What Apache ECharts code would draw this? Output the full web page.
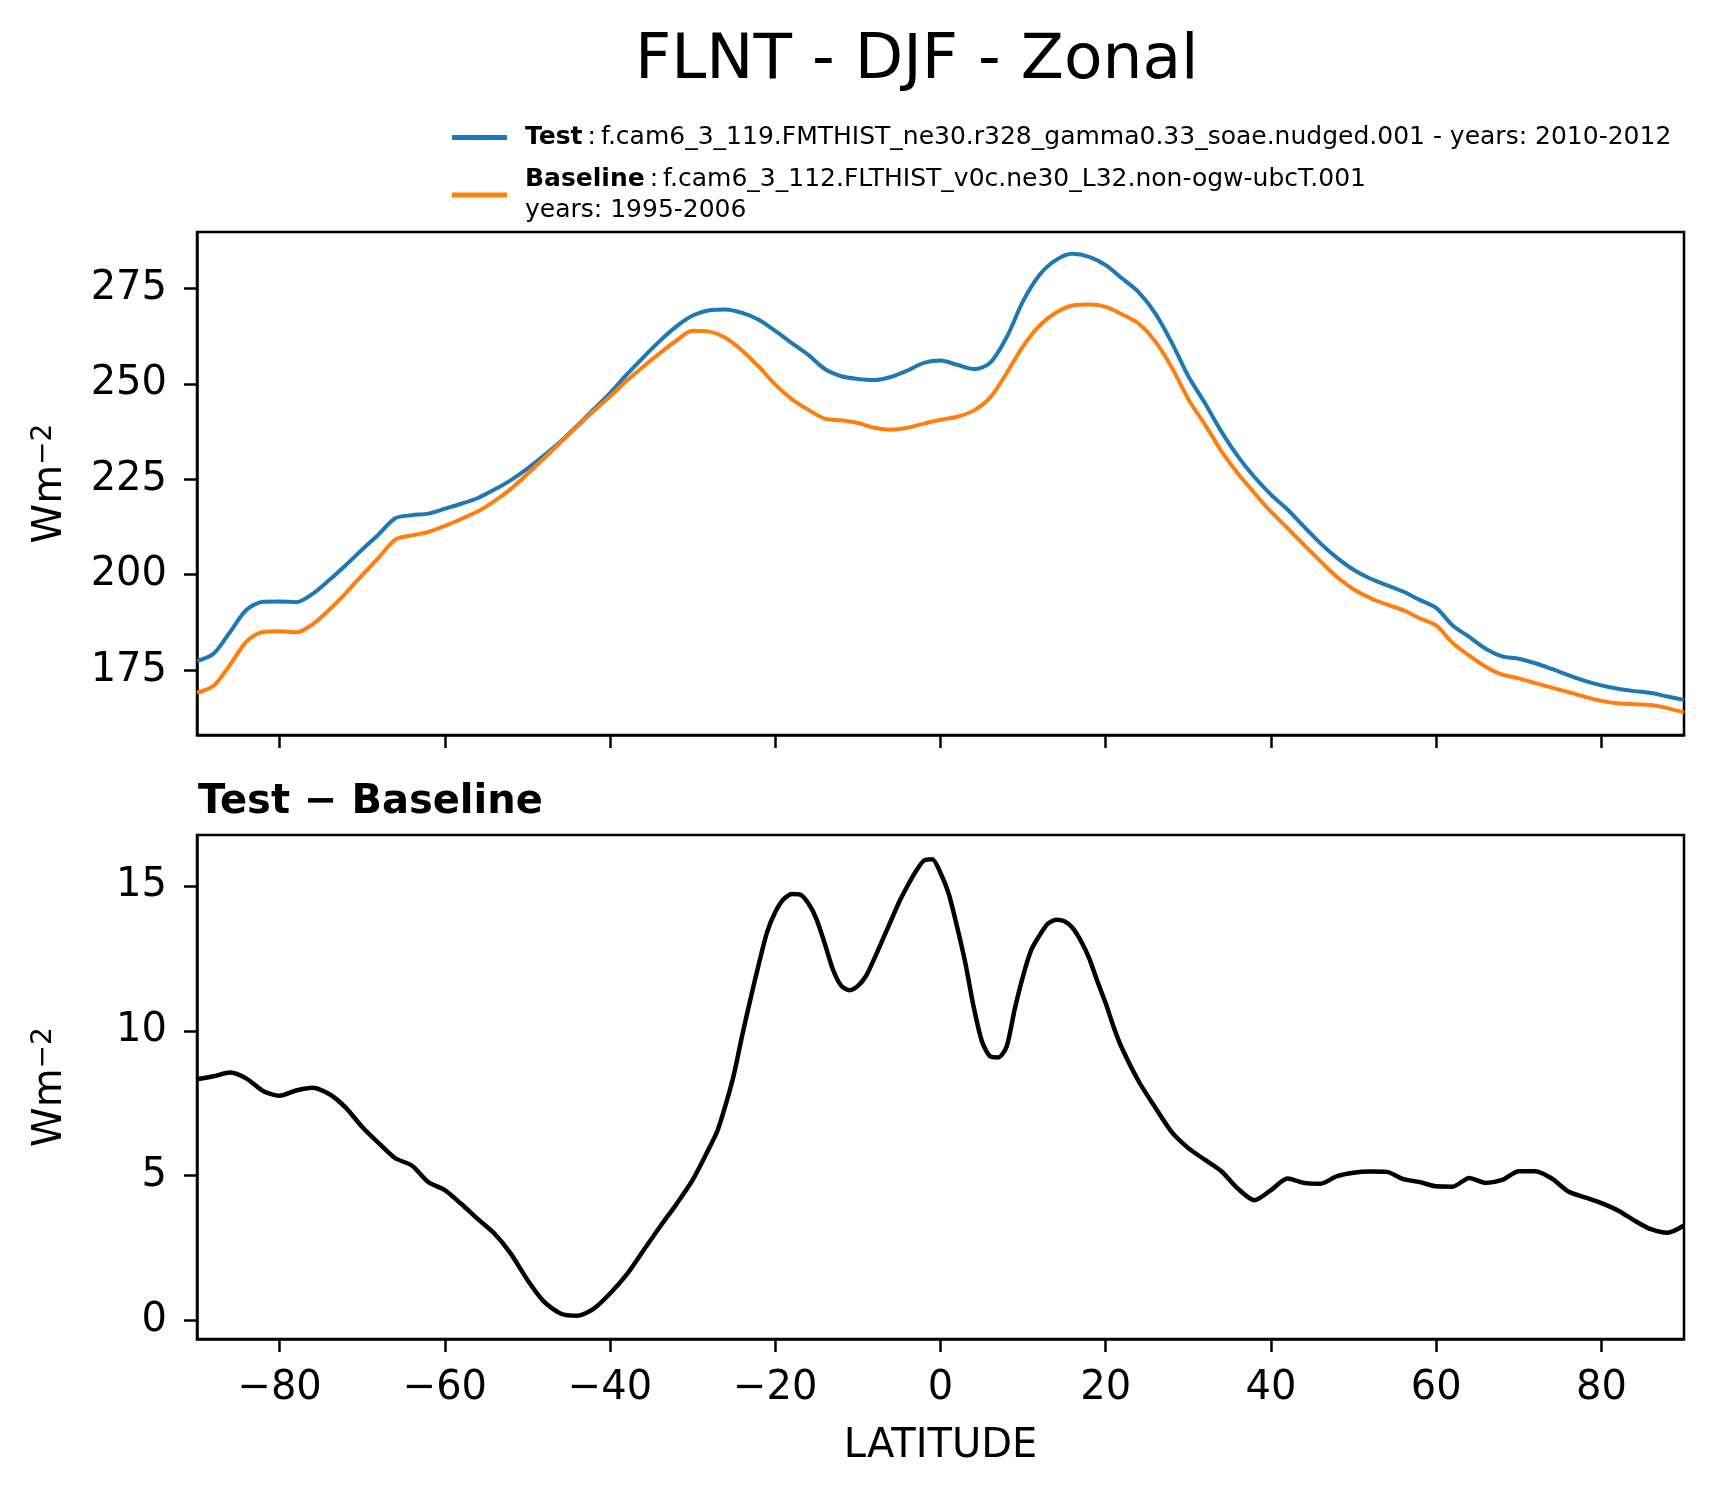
<!DOCTYPE html>
<html>
<head>
<meta charset="utf-8">
<script src="https://cdn.jsdelivr.net/npm/echarts@6/dist/echarts.min.js"></script>
<style>
html,body{margin:0;padding:0;background:#fff;}
#chart{width:1714px;height:1496px;}
</style>
</head>
<body>
<div id="chart"></div>
<script>
// ---- data ----
const lat = [-90,-88,-86,-84,-82,-80,-78,-76,-74,-72,-70,-68,-66,-64,-62,-60,-58,-56,-54,-52,-50,-48,-46,-44,-42,-40,-38,-36,-34,-32,-30,-28,-26,-24,-22,-20,-18,-16,-14,-12,-10,-8,-6,-4,-2,0,2,4,6,8,10,12,14,16,18,20,22,24,26,28,30,32,34,36,38,40,42,44,46,48,50,52,54,56,58,60,62,64,66,68,70,72,74,76,78,80,82,84,86,88,90];
const testVals = [177.4,179.3,185.0,190.8,192.9,193.0,192.8,195.0,198.6,202.5,206.6,210.6,214.8,215.6,216.0,217.3,218.6,220.1,222.3,224.8,227.8,231.2,234.9,239.0,243.3,247.6,252.4,256.9,261.2,265.0,267.9,269.3,269.5,268.6,266.8,263.9,260.7,257.6,253.9,252.0,251.3,251.0,251.8,253.5,255.5,256.1,255.0,253.9,255.5,262.2,271.7,278.6,282.5,284.1,283.3,281.1,277.6,274.0,268.5,260.8,252.0,245.0,237.5,231.0,225.6,221.0,217.1,212.6,208.2,204.4,201.3,199.0,197.3,195.6,193.4,191.3,186.7,183.7,180.6,178.6,178.0,176.8,175.3,173.7,172.2,171.0,170.1,169.5,169.0,168.1,167.2];
const baseVals = [169.1,170.9,176.4,182.5,185.0,185.2,184.9,187.0,190.8,195.2,199.9,204.5,209.2,210.3,211.2,212.8,214.6,216.6,219.3,222.5,226.4,230.5,234.7,238.8,242.9,246.7,250.8,254.5,258.0,261.3,263.9,263.7,262.0,258.7,254.5,249.8,246.0,243.2,240.9,240.45,239.75,238.5,238.0,238.5,239.6,240.6,241.4,243.0,246.4,252.8,259.9,265.3,268.7,270.55,270.8,270.2,268.2,265.75,261.1,254.3,246.0,239.4,232.4,226.5,221.4,216.5,212.2,207.8,203.5,199.4,196.2,193.9,192.2,190.7,188.6,186.7,182.1,178.8,175.9,173.8,172.85,171.6,170.4,169.25,168.0,166.95,166.3,166.05,165.85,165.05,163.9];
const diffLat = [-90,-88,-86,-84,-82,-80,-78,-76,-74,-72,-70,-68,-66,-64,-62,-60,-58,-56,-54,-52,-50,-48,-46,-44,-42,-40,-38,-36,-34,-32,-30,-28,-27,-26,-25,-24,-23,-22,-21,-20,-19,-18,-17,-16,-15,-14,-13,-12,-11,-10,-9,-8,-7,-6,-5,-4,-3,-2,-1,0,1,2,3,4,5,6,7,8,9,10,11,12,13,14,15,16,17,18,19,20,21,22,24,26,28,30,32,34,36,38,40,42,44,46,48,50,52,54,56,58,60,62,64,66,68,70,72,74,76,78,80,82,84,86,88,90];
const diffVals = [8.33,8.43,8.56,8.35,7.92,7.76,7.94,8.03,7.82,7.35,6.68,6.12,5.60,5.35,4.78,4.50,4.02,3.50,3.00,2.30,1.40,0.65,0.24,0.16,0.40,0.93,1.58,2.40,3.22,4.00,4.85,5.95,6.55,7.45,8.50,9.85,11.10,12.30,13.40,14.10,14.54,14.72,14.70,14.40,13.85,13.00,12.10,11.55,11.40,11.55,11.90,12.50,13.15,13.80,14.45,15.00,15.50,15.88,15.92,15.45,14.73,13.60,12.35,10.85,9.65,9.12,9.08,9.45,10.77,11.90,12.80,13.30,13.70,13.83,13.78,13.55,13.10,12.50,11.70,10.95,10.10,9.38,8.25,7.35,6.50,5.95,5.55,5.15,4.55,4.15,4.50,4.90,4.75,4.72,4.98,5.10,5.14,5.13,4.88,4.78,4.63,4.62,4.92,4.75,4.85,5.15,5.15,4.90,4.45,4.25,4.05,3.80,3.45,3.15,3.03,3.28];
const xTicks = [-80,-60,-40,-20,0,20,40,60,80];
const yTicksTop = [175,200,225,250,275];
const yTicksBottom = [0,5,10,15];
const titleText = 'FLNT - DJF - Zonal';
const subTitleText = 'Test \u2212 Baseline';
const testName = 'Test';
const baseName = 'Baseline';
const testDesc = 'f.cam6_3_119.FMTHIST_ne30.r328_gamma0.33_soae.nudged.001 - years: 2010-2012';
const baseDesc = 'f.cam6_3_112.FLTHIST_v0c.ne30_L32.non-ogw-ubcT.001';
const baseYears = 'years: 1995-2006';

// ---- chart ----
const FONT = 'DejaVu Sans';
const fmtTick = v => (v < 0 ? '\u2212' + Math.abs(v) : String(v));
const chart = echarts.init(document.getElementById('chart'), null, {renderer: 'canvas'});

const ylabelRich = {
  w: {fontFamily: FONT, fontSize: 40, color: '#000'},
  s: {fontFamily: FONT, fontSize: 28, color: '#000', verticalAlign: 'top', padding: [0, 0, 14, 0]}
};

function xAxisCfg(idx, showLabels) {
  return {
    type: 'value', gridIndex: idx, min: -90, max: 90,
    axisLine: {show: true, onZero: false, lineStyle: {color: '#000', width: 2.5}},
    axisTick: {show: true, length: 13, lineStyle: {color: '#000', width: 2.5}, customValues: xTicks},
    axisLabel: {show: showLabels, customValues: xTicks, formatter: fmtTick, fontFamily: FONT, fontSize: 40, color: '#000', margin: 30},
    splitLine: {show: false},
    name: showLabels ? 'LATITUDE' : '',
    nameLocation: 'middle', nameGap: 88,
    nameTextStyle: {fontFamily: FONT, fontSize: 40, color: '#000'}
  };
}
function yAxisCfg(idx, mn, mx, ticks) {
  return {
    type: 'value', gridIndex: idx, min: mn, max: mx,
    axisLine: {show: true, onZero: false, lineStyle: {color: '#000', width: 2.5}},
    axisTick: {show: true, length: 13, lineStyle: {color: '#000', width: 2.5}, customValues: ticks},
    axisLabel: {show: true, customValues: ticks, formatter: fmtTick, fontFamily: FONT, fontSize: 40, color: '#000', margin: 30},
    splitLine: {show: false},
    name: '{w|Wm}{s|\u22122}',
    nameLocation: 'middle', nameGap: 125, nameRotate: 90,
    nameTextStyle: {rich: ylabelRich}
  };
}

const option = {
  backgroundColor: '#fff',
  animation: false,
  title: [
    {text: titleText, left: 630, top: 25, textStyle: {fontFamily: FONT, fontSize: 63, fontWeight: 'normal', color: '#000'}},
    {text: subTitleText, left: 193, top: 778, textStyle: {fontFamily: FONT, fontSize: 40, fontWeight: 'bold', color: '#000'}}
  ],
  legend: {
    data: [testName, baseName],
    orient: 'vertical', left: 452, top: 125, padding: 0, itemGap: 17,
    itemWidth: 55, itemHeight: 5, icon: 'rect',
    selectedMode: false,
    formatter: function (name) {
      if (name === testName) return '{b|' + testName + '}{n|\u2009:\u2009' + testDesc + '}';
      return '{b|' + baseName + '}{n|\u2009:\u2009' + baseDesc + '}\n{n|' + baseYears + '}';
    },
    textStyle: {
      padding: [0, 0, 0, 13],
      rich: {
        b: {fontFamily: FONT, fontSize: 25, fontWeight: 'bold', color: '#000', lineHeight: 31},
        n: {fontFamily: FONT, fontSize: 25, color: '#000', lineHeight: 31}
      }
    }
  },
  grid: [
    {left: 197, top: 232, width: 1487, height: 503, show: true, borderColor: '#000', borderWidth: 2.5, backgroundColor: 'transparent'},
    {left: 197, top: 835, width: 1487, height: 504, show: true, borderColor: '#000', borderWidth: 2.5, backgroundColor: 'transparent'}
  ],
  xAxis: [xAxisCfg(0, false), xAxisCfg(1, true)],
  yAxis: [yAxisCfg(0, 158.0, 289.8, yTicksTop), yAxisCfg(1, -0.64, 16.76, yTicksBottom)],
  series: [
    {name: testName, type: 'line', xAxisIndex: 0, yAxisIndex: 0, showSymbol: false, smooth: 0.3,
     itemStyle: {color: '#1f77b4'}, lineStyle: {color: '#1f77b4', width: 4},
     data: lat.map((x, i) => [x, testVals[i]])},
    {name: baseName, type: 'line', xAxisIndex: 0, yAxisIndex: 0, showSymbol: false, smooth: 0.3,
     itemStyle: {color: '#ff7f0e'}, lineStyle: {color: '#ff7f0e', width: 4},
     data: lat.map((x, i) => [x, baseVals[i]])},
    {name: 'diff', type: 'line', xAxisIndex: 1, yAxisIndex: 1, showSymbol: false, smooth: 0.25,
     itemStyle: {color: '#000'}, lineStyle: {color: '#000', width: 4.5},
     data: diffLat.map((x, i) => [x, diffVals[i]])}
  ]
};
chart.setOption(option);
</script>
</body>
</html>
